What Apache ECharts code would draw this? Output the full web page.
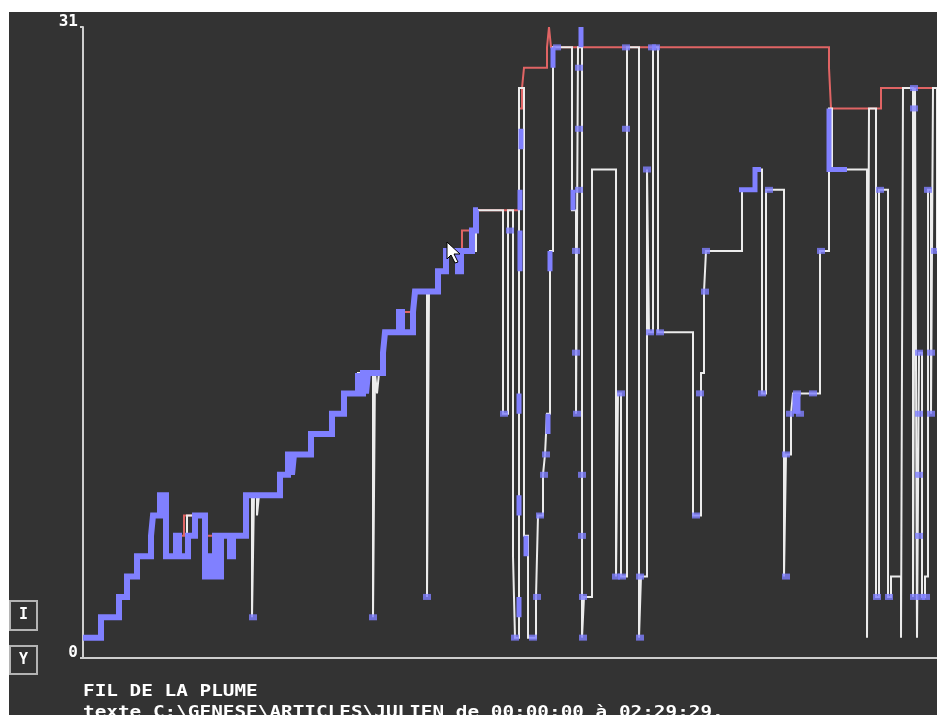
<!DOCTYPE html>
<html><head><meta charset="utf-8">
<script src="https://cdn.jsdelivr.net/npm/echarts/dist/echarts.min.js"></script>
<style>
html,body{margin:0;padding:0;background:#ffffff;width:937px;height:715px;overflow:hidden;}
#c{position:absolute;left:9px;top:12px;width:928px;height:703px;}
</style></head><body><div id="c"></div>
<script>
// time in session steps (0 .. sessionLength), position = paragraph index (0 .. 31)
const sessionLength = 854;
const yTicks = [0, 31];
const title = 'FIL DE LA PLUME';
const subtitle = 'texte C:\\GENESE\\ARTICLES\\JULIEN de 00:00:00 à 02:29:29.';

// cursor position (white)
const cursorPath = [[0,1],[18,2],[36,3],[44,4],[54,5],[68,6],[70,7],[77,8],[83,5],[94,6],[97,5],[104,7],[110,6],[112,7],[122,4],[137,6],[163,8],[169,2],[171,8],[174,7],[176,8],[197,9],[205,10],[228,11],[249,12],[261,13],[275,14],[279,13],[281,14],[290,2],[292,14],[294,13],[296,14],[300,15],[302,16],[316,17],[321,16],[330,17],[332,18],[344,3],[346,18],[355,19],[363,20],[393,22],[420,12],[425,22],[430,5],[432,1],[436,28],[441,6],[445,1],[453,3],[455,7],[460,9],[462,10],[464,12],[467,20],[470,30],[489,22],[493,12],[495,30],[499,1],[501,3],[509,24],[533,4],[535,13],[538,4],[544,30],[556,1],[558,4],[564,24],[566,16],[570,30],[575,16],[610,7],[618,14],[621,18],[623,20],[659,23],[672,24],[679,13],[683,23],[701,4],[703,10],[708,12],[710,13],[737,20],[746,27],[749,24],[784,1],[786,27],[793,3],[796,23],[805,3],[808,4],[818,1],[820,28],[830,3],[832,28],[834,1],[836,15],[839,3],[842,4],[845,23],[848,12],[850,28],[854,20]];

// text length (red)
const maxPath = [[0,1],[18,2],[36,3],[44,4],[54,5],[70,7],[77,8],[83,5],[93,6],[101,7],[121,6],[163,8],[197,9],[205,10],[228,11],[249,12],[261,13],[275,14],[300,15],[302,16],[316,17],[331,18],[355,19],[363,20],[379,21],[393,22],[436,27],[439,28],[441,29],[464,30],[466,31],[468,30],[746,29],[748,27],[798,28],[854,28]];

// writing (blue, thick)
const writingPath = [[0,1],[18,2],[36,3],[44,4],[54,5],[68,6],[70,7],[77,8],[83,5],[93,6],[96,5],[105,6],[112,7],[122,4],[126,5],[129,4],[132,6],[135,4],[138,6],[147,5],[150,6],[163,8],[197,9],[205,10],[209,9],[211,10],[228,11],[249,12],[261,13],[275,14],[277,13],[280,14],[283,13],[285,14],[300,15],[302,16],[316,17],[319,16],[330,17],[332,18],[355,19],[363,20],[375,19],[378,20],[389,21],[393,22],[395,22]];

const writingBars = [
  [[436,2],[436,3]], [[436,7],[436,8]], [[436,12],[436,13]], [[437,19],[437,21]],
  [[437,22],[437,23]], [[438,25],[438,26]], [[443,5],[443,6]], [[465,11],[465,12]],
  [[467,19],[467,20]], [[470,29],[470,30]], [[490,22],[490,23]], [[498,30],[498,31]],
  [[656,23],[672,24],[678,24]], [[712,13],[712,12]], [[715,13],[715,12]],
  [[746,27],[746,24],[764,24]]
];

const writingDots = [[170,2],[290,2],[344,3],[421,12],[427,21],[432,1],[450,1],[454,3],[457,7],[461,9],[463,10],[474,30],[496,29],[496,26],[496,23],[493,20],[493,15],[494,12],[499,9],[499,6],[500,3],[500,1],[533,4],[539,4],[538,13],[543,30],[543,26],[557,4],[557,1],[564,24],[567,16],[577,16],[569,30],[573,30],[613,7],[617,13],[622,18],[623,20],[679,13],[686,23],[703,10],[703,4],[707,12],[717,12],[714,13],[730,13],[738,20],[794,3],[797,23],[806,3],[831,28],[831,27],[836,15],[836,12],[836,9],[836,6],[831,3],[838,3],[843,3],[845,23],[848,15],[848,12],[852,20]];

const BLUE = '#8080ff', RED = '#e06464', WHITE = '#ececec', AXIS = '#cfcfcf';
const MONO = '"DejaVu Sans Mono", "Liberation Mono", monospace';

const chart = echarts.init(document.getElementById('c'), null, {renderer: 'canvas'});

const series = [
  {type:'line', data:maxPath, step:'end', symbol:'none', silent:true, z:2,
   lineStyle:{color:RED, width:2, join:'miter'}},
  {type:'line', data:cursorPath, step:'end', symbol:'none', silent:true, z:3,
   lineStyle:{color:WHITE, width:2, join:'miter'}},
  {type:'line', data:writingPath, step:'end', symbol:'none', silent:true, z:4,
   lineStyle:{color:BLUE, width:6, join:'miter', cap:'butt'}}
];
writingBars.forEach(seg => series.push({
  type:'line', data:seg, step:'end', symbol:'none', silent:true, z:4,
  lineStyle:{color:BLUE, width:5, join:'miter', cap:'butt'}
}));
series.push({type:'scatter', data:writingDots, symbol:'rect', symbolSize:[8,6], silent:true, z:5,
  itemStyle:{color:BLUE}});

chart.setOption({
  animation:false,
  backgroundColor:'#333333',
  grid:{left:74, right:0, top:15, bottom:57, containLabel:false},
  xAxis:{type:'value', min:0, max:sessionLength,
    axisLine:{show:true, onZero:false, lineStyle:{color:AXIS, width:2}},
    axisTick:{show:false}, axisLabel:{show:false}, splitLine:{show:false}},
  yAxis:{type:'value', min:yTicks[0], max:yTicks[1], interval:yTicks[1]-yTicks[0],
    axisLine:{show:true, lineStyle:{color:AXIS, width:2}},
    axisTick:{show:true, length:3, lineStyle:{color:AXIS, width:2}},
    axisLabel:{color:'#ffffff', fontFamily:MONO, fontWeight:'bold', fontSize:16, margin:5,
      verticalAlign:'bottom', lineHeight:11},
    splitLine:{show:false}},
  graphic:[
    {type:'text', x:74, y:680.5, scaleX:1.29, silent:true,
     style:{text:title, font:'bold 15px ' + MONO, fill:'#ffffff', textVerticalAlign:'middle', verticalAlign:'middle'}},
    {type:'text', x:74, y:701, scaleX:1.29, silent:true,
     style:{text:subtitle, font:'bold 15px ' + MONO, fill:'#ffffff', textVerticalAlign:'middle', verticalAlign:'middle'}},
    {type:'rect', shape:{x:1, y:589, width:27, height:29}, silent:true,
     style:{fill:'none', stroke:'#b4b4b4', lineWidth:2}},
    {type:'text', x:14.5, y:603.5, silent:true,
     style:{text:'I', font:'bold 15px ' + MONO, fill:'#ffffff', textAlign:'center', align:'center', textVerticalAlign:'middle', verticalAlign:'middle'}},
    {type:'rect', shape:{x:1, y:634, width:27, height:28}, silent:true,
     style:{fill:'none', stroke:'#b4b4b4', lineWidth:2}},
    {type:'text', x:14.5, y:648, silent:true,
     style:{text:'Y', font:'bold 15px ' + MONO, fill:'#ffffff', textAlign:'center', align:'center', textVerticalAlign:'middle', verticalAlign:'middle'}},
    {type:'polygon', silent:true, z:100,
     shape:{points:[[438,230],[438,247],[442,243],[446,251],[449,250],[445,242],[451,242]]},
     style:{fill:'#ffffff', stroke:'#000000', lineWidth:1}}
  ],
  series:series
});
</script>
</body></html>
